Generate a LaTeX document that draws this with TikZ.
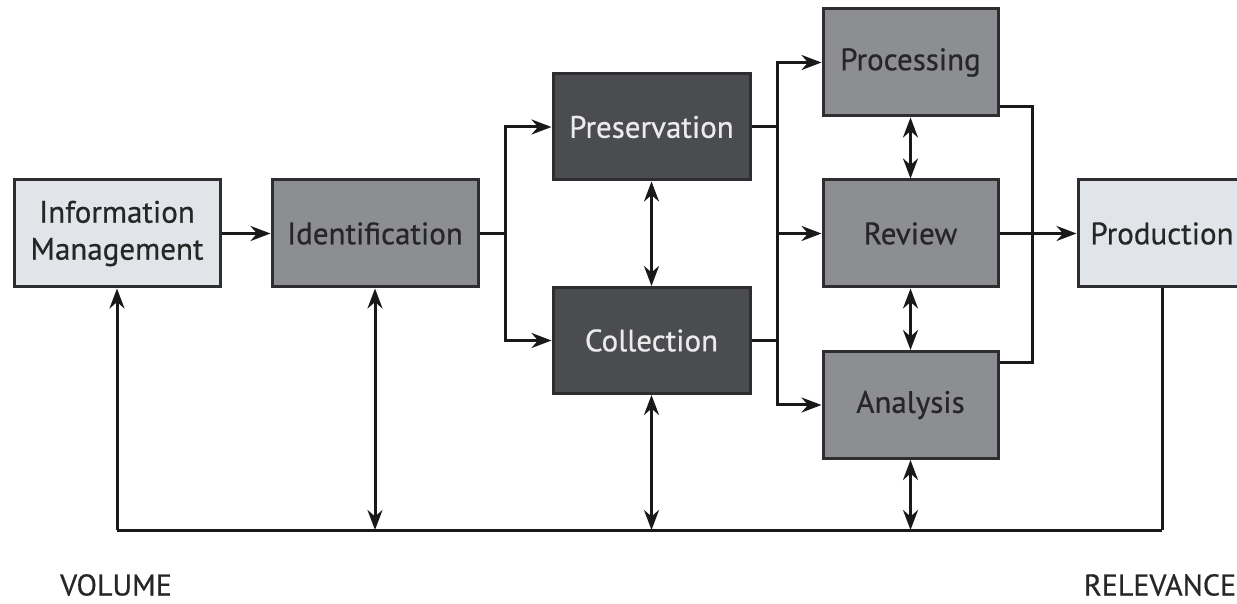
\documentclass[tikz,border=0pt]{standalone}
\usepackage{fontspec}
\setmainfont{PT Sans}[FakeBold=0.6]
\usetikzlibrary{arrows.meta,calc}
\definecolor{stagelight}{HTML}{E1E4E8}
\definecolor{stagemid}{HTML}{8D8E91}
\definecolor{stagedark}{HTML}{4B4C4F}
\definecolor{edgegray}{HTML}{2E2E30}
\tikzset{
  stage/.style={draw=edgegray,line width=3pt,minimum height=107pt,inner sep=0pt,
    align=center,font=\fontsize{31}{37}\selectfont},
  lightstage/.style={stage,fill=stagelight,text=black!85},
  midstage/.style={stage,fill=stagemid,text=black!85},
  darkstage/.style={stage,fill=stagedark,text=white!92!black},
  caption/.style={font=\fontsize{30}{36}\selectfont,text=black!85,inner sep=1pt},
  link/.style={line width=3pt,draw=black!90},
  flow/.style={link,-{Stealth[length=20pt,width=15pt]}},
  twoway/.style={link,{Stealth[length=20pt,width=15pt]}-{Stealth[length=20pt,width=15pt]}}
}

\begin{document}
\begin{tikzpicture}[x=1pt,y=1pt]
\useasboundingbox (0,0) rectangle (1237,603);
\node[lightstage,minimum width=206pt] (info) at (117,369.5) {Information\\Management};
\node[midstage,minimum width=206pt] (ident) at (375,369.5) {Identification};
\node[darkstage,minimum width=197pt,minimum height=106pt] (pres) at (651.5,476) {Preservation};
\node[darkstage,minimum width=197pt,minimum height=106pt] (coll) at (651.5,262.5) {Collection};
\node[midstage,minimum width=175pt] (proc) at (910.5,540.5) {Processing};
\node[midstage,minimum width=175pt] (rev) at (910.5,369.5) {Review};
\node[midstage,minimum width=175pt] (ana) at (910.5,198) {Analysis};
\node[lightstage,minimum width=168pt] (prod) at (1162,369.5) {Production};
\node[caption] (volume) at (116,18) {VOLUME};
\node[caption] (relevance) at (1160,18) {RELEVANCE};
\coordinate (split1) at (505,369.5);
\coordinate (split2) at (777,369.5);
\coordinate (merge) at (1032,369.5);
\coordinate (base) at (0,73);
\draw[flow] (info) -- (ident);
\draw[link] (ident.east) -- (split1);
\draw[flow] (split1) |- (pres.west);
\draw[flow] (split1) |- (coll.west);
\draw[twoway] (pres.south) -- (coll.north);
\draw[link] (pres.east) -| (split2);
\draw[link] (coll.east) -| (split2);
\draw[flow] (split2) |- (proc.west);
\draw[flow] (split2) -- (rev.west);
\draw[flow] (split2) |- (ana.west);
\draw[twoway] (proc.south) -- (rev.north);
\draw[twoway] (rev.south) -- (ana.north);
\draw[link] ($(proc.south east)+(0,11)$) -| (merge |- 0,240) -- (ana.east |- 0,240);
\draw[flow] (rev.east) -- (prod.west);
\draw[link] (info.south |- base) -- (prod.south |- base);
\draw[flow] (info.south |- base) -- (info.south);
\draw[twoway] (ident.south) -- (ident.south |- base);
\draw[twoway] (coll.south) -- (coll.south |- base);
\draw[twoway] (ana.south) -- (ana.south |- base);
\draw[link] (prod.south) -- (prod.south |- base);
\end{tikzpicture}
\end{document}
